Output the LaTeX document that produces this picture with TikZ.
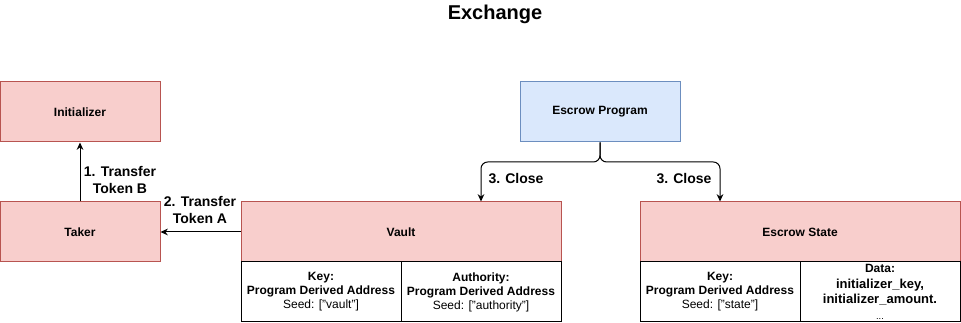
\documentclass[tikz,border=0pt]{standalone}
\usepackage{fontspec}
\setmainfont{Liberation Sans}
\usetikzlibrary{arrows.meta}

\definecolor{redfill}{HTML}{F8CECC}
\definecolor{redline}{HTML}{B85450}
\definecolor{bluefill}{HTML}{DAE8FC}
\definecolor{blueline}{HTML}{6C8EBF}

\tikzset{
    redbox/.style={draw=redline, fill=redfill, minimum height=45pt, inner sep=0pt,
        font=\bfseries\fontsize{9}{10.5}\selectfont},
    bluebox/.style={draw=blueline, fill=bluefill, minimum width=120pt, minimum height=45pt,
        inner sep=0pt, font=\bfseries\fontsize{9}{10.5}\selectfont},
    cellbox/.style={draw=black, fill=white, minimum width=120pt, minimum height=45pt,
        inner sep=0pt, align=center, font=\fontsize{9}{10.5}\selectfont},
    steplabel/.style={align=center, font=\bfseries\fontsize{10.5}{12.75}\selectfont},
    flow/.style={-{Stealth[length=5.5pt, width=5pt]}}
}

\begin{document}
\begin{tikzpicture}[x=0.75pt, y=-0.75pt, line width=0.75pt]
    \useasboundingbox (0,0) rectangle (961,323);

    % Title
    \node[font=\bfseries\fontsize{15}{18}\selectfont] (title) at (495,14) {Exchange};

    % Parties
    \node[redbox, minimum width=120pt] (init) at (80,112) {Initializer};
    \node[redbox, minimum width=120pt] (taker) at (80,232) {Taker};

    % Program
    \node[bluebox] (prog) at (600,112) {Escrow Program};

    % Vault account
    \node[redbox, minimum width=240pt] (vault) at (401,232) {Vault};
    \node[cellbox] (vkey) at (321,292) {\textbf{Key:}\\\textbf{Program Derived Address}\\Seed: ["vault"]};
    \node[cellbox] (vauth) at (481,292) {\textbf{Authority:}\\\textbf{Program Derived Address}\\Seed: ["authority"]};

    % Escrow state account
    \node[redbox, minimum width=240pt] (state) at (800,232) {Escrow State};
    \node[cellbox] (skey) at (720,292) {\textbf{Key:}\\\textbf{Program Derived Address}\\Seed: ["state"]};
    \node[cellbox, font=\fontsize{9}{11.6}\selectfont] (sdata) at (880,292)
        {\textbf{Data:}\\{\bfseries\fontsize{9.75}{11.6}\selectfont initializer\_key,}\\{\bfseries\fontsize{9.75}{11.6}\selectfont initializer\_amount.}\\{\fontsize{7}{9}\selectfont ...}};

    % Transfers
    \draw[flow] (taker) -- (init);
    \draw[flow] (vault.west) -- (taker.east);
    \node[steplabel] (tb) at (120,180) {1. Transfer\\Token B};
    \node[steplabel] (ta) at (200,210) {2. Transfer\\Token A};

    % Close
    \coordinate (fork) at (600,162);
    \draw[flow, rounded corners=5pt] (prog.south) -- (fork) -| (vauth |- vault.north);
    \draw[flow, rounded corners=5pt] (prog.south) -- (fork) -| (skey |- state.north);
    \node[steplabel] (cl) at (516,179) {3. Close};
    \node[steplabel] (cr) at (684,179) {3. Close};
\end{tikzpicture}
\end{document}
